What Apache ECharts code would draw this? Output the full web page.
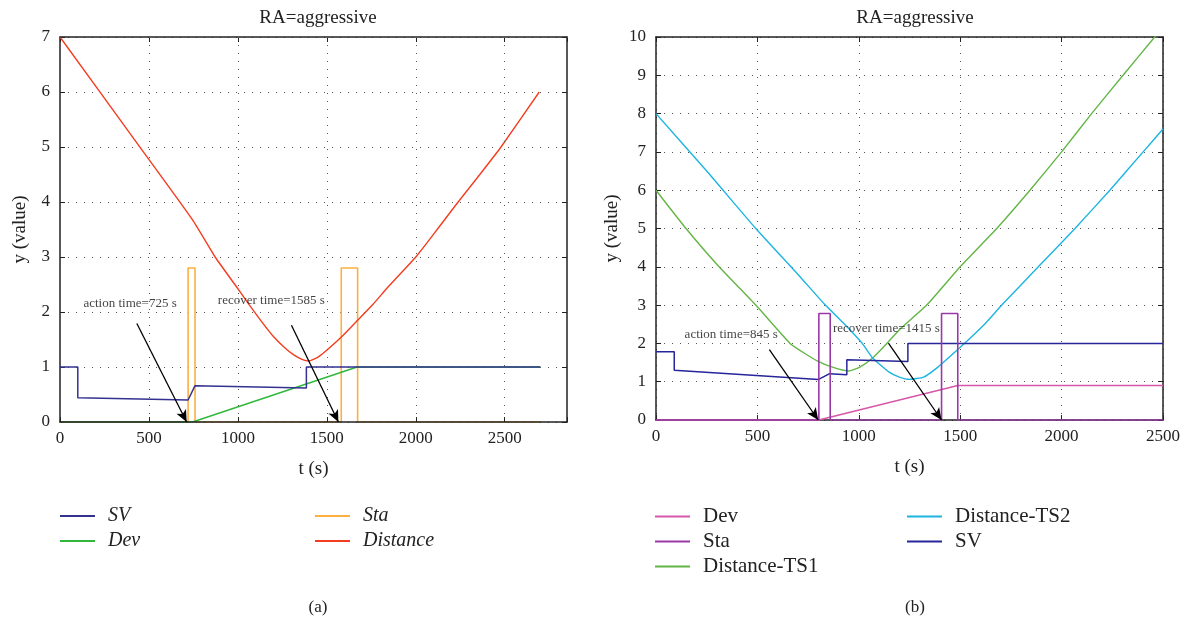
<!DOCTYPE html>
<html>
<head>
<meta charset="utf-8">
<script src="https://cdn.jsdelivr.net/npm/echarts@6/dist/echarts.min.js"></script>
<style>html,body{margin:0;padding:0;background:#fff}#c{width:1194px;height:622px}</style>
</head>
<body>
<div id="c"></div>
<script>
// ---------- data: chart (a) ----------
var xTicksA = [0, 500, 1000, 1500, 2000, 2500];
var aSV = [[0,1],[100,1],[100,0.44],[720,0.40],[759,0.66],[1385,0.62],[1385,1.0],[2700,1.0]];
var aDev = [[0,0],[745,0],[1670,1.0],[2700,1.0]];
var aSta = [[0,0],[720,0],[720,2.8],[759,2.8],[759,0],[1581,0],[1581,2.8],[1673,2.8],[1673,0],[2700,0]];
var aDist = [[0,7],[444,5.02],[746,3.67],[872,3.0],[994,2.45],[1051,2.19],[1130,1.84],[1201,1.55],[1260,1.36],[1314,1.22],[1360,1.14],[1398,1.11],[1450,1.18],[1501,1.31],[1580,1.54],[1670,1.84],[1760,2.14],[1840,2.44],[2000,3.0],[2120,3.5],[2238,4.0],[2360,4.5],[2479,5.0],[2694,6.0]];
var aNotes = [[394,2.16,'action time=725 s'],[1188,2.2,'recover time=1585 s']];
var aArrows = [[[432,1.79],[712,0]],[[1301,1.76],[1565,0]]];

// ---------- data: chart (b) ----------
var bDev = [[0,0],[803,0],[1488,0.9],[2500,0.9]];
var bSta = [[0,0],[803,0],[803,2.78],[859,2.78],[859,0],[1408,0],[1408,2.78],[1488,2.78],[1488,0],[2500,0]];
var bTS1 = [[0,6],[148,5],[311,4],[492,3],[661,2],[730,1.75],[797,1.54],[870,1.38],[950,1.28],[1005,1.38],[1068,1.62],[1135,1.98],[1203,2.37],[1335,3.0],[1500,4],[1680,5],[1844,6],[2000,7],[2148,8],[2303,9],[2459,10],[2500,10.25]];
var bTS2 = [[0,8],[250,6.5],[492,5],[700,3.8],[835,3.0],[930,2.5],[1017,2.0],[1068,1.62],[1150,1.25],[1200,1.12],[1250,1.06],[1320,1.12],[1390,1.38],[1488,1.84],[1542,2.1],[1620,2.5],[1705,3],[1885,4],[2066,5],[2238,6],[2402,7],[2500,7.6]];
var bSV = [[0,1.78],[90,1.78],[90,1.30],[802,1.06],[856,1.21],[941,1.18],[941,1.57],[1242,1.53],[1242,2.0],[2500,2.0]];
var bNotes = [[371,2.22,'action time=845 s'],[1136,2.38,'recover time=1415 s']];
var bArrows = [[[559,1.84],[800,0]],[[1147,2.0],[1408,0]]];

var FONT = 'Liberation Serif';
var ZW = '\u200b';

function gridAxisX(idx, max, pos, show, z) {
  return {
    type: 'value', gridIndex: idx, min: 0, max: max, interval: 500, position: pos, z: z || 0,
    axisLine: {show: true, onZero: false, lineStyle: {color: '#222', width: 1.5}},
    axisTick: {show: true, inside: true, length: 5, lineStyle: {color: '#222'}},
    axisLabel: {show: show, color: '#222', fontFamily: FONT, fontSize: 17, margin: 8,
      formatter: function (v) { return v % 500 === 0 ? String(v) : ''; }},
    splitLine: {show: show, lineStyle: {color: '#555', type: [1, 7], width: 1}},
    name: show ? 't (s)' : '', nameLocation: 'middle', nameGap: 38,
    nameTextStyle: {color: '#222', fontFamily: FONT, fontSize: 19}
  };
}
function gridAxisY(idx, max, pos, show, gap) {
  return {
    type: 'value', gridIndex: idx, min: 0, max: max, interval: 1, position: pos,
    axisLine: {show: true, onZero: false, lineStyle: {color: '#222', width: 1.5}},
    axisTick: {show: true, inside: true, length: 5, lineStyle: {color: '#222'}},
    axisLabel: {show: show, color: '#222', fontFamily: FONT, fontSize: 17, margin: 10},
    splitLine: {show: show, lineStyle: {color: '#555', type: [1, 7], width: 1}},
    name: show ? 'y (value)' : '', nameLocation: 'middle', nameGap: gap,
    nameTextStyle: {color: '#222', fontFamily: FONT, fontSize: 19}
  };
}
function lineS(name, data, color, xi, yi, w, smooth) {
  return {type: 'line', name: name, data: data, xAxisIndex: xi, yAxisIndex: yi,
    symbol: 'none', showSymbol: false, smooth: smooth || false,
    lineStyle: {color: color, width: w || 1.4}, itemStyle: {color: color},
    z: 2, animation: false};
}
function notes(data, xi, yi) {
  return {type: 'scatter', data: data, xAxisIndex: xi, yAxisIndex: yi, symbolSize: 1,
    itemStyle: {color: 'rgba(0,0,0,0)'}, silent: true, z: 5,
    label: {show: true, position: 'inside', formatter: function (p) { return p.value[2]; },
      color: '#111', fontFamily: FONT, fontSize: 13}};
}
function arrows(list, xi, yi) {
  return {type: 'line', data: [], xAxisIndex: xi, yAxisIndex: yi, symbol: 'none', silent: true, z: 6,
    markLine: {silent: true, symbol: ['none', 'arrow'], symbolSize: [8, 12], animation: false,
      label: {show: false}, lineStyle: {color: '#000', width: 1.3, type: 'solid'},
      data: list.map(function (a) { return [{coord: a[0]}, {coord: a[1]}]; })}};
}
function legend(left, top, names, italic, fs, gap) {
  return {left: left, top: top, orient: 'vertical', itemWidth: 35, itemHeight: 2, itemGap: gap,
    icon: 'rect', data: names, selectedMode: false,
    formatter: function (n) { return n.replace(ZW, ''); },
    textStyle: {color: '#222', fontFamily: FONT, fontSize: fs, fontStyle: italic ? 'italic' : 'normal',
      padding: [0, 0, 0, 8], lineHeight: 18}};
}

var option = {
  backgroundColor: '#fff',
  animation: false,
  title: [
    {text: 'RA=aggressive', left: 313, top: 4, textAlign: 'center', textStyle: {fontFamily: FONT, fontSize: 19, fontWeight: 'normal', color: '#222'}},
    {text: 'RA=aggressive', left: 910, top: 4, textAlign: 'center', textStyle: {fontFamily: FONT, fontSize: 19, fontWeight: 'normal', color: '#222'}},
    {text: '(a)', left: 313, top: 594, textAlign: 'center', textStyle: {fontFamily: FONT, fontSize: 17, fontWeight: 'normal', color: '#222'}},
    {text: '(b)', left: 910, top: 594, textAlign: 'center', textStyle: {fontFamily: FONT, fontSize: 17, fontWeight: 'normal', color: '#222'}}
  ],
  grid: [
    {left: 60, top: 37, width: 507, height: 385, show: false},
    {left: 656, top: 37, width: 507, height: 383, show: false}
  ],
  xAxis: [
    gridAxisX(0, 2850, 'bottom', true, 3),
    gridAxisX(0, 2850, 'top', false),
    gridAxisX(1, 2500, 'bottom', true),
    gridAxisX(1, 2500, 'top', false)
  ],
  yAxis: [
    gridAxisY(0, 7, 'left', true, 30),
    gridAxisY(0, 7, 'right', false, 0),
    gridAxisY(1, 10, 'left', true, 34),
    gridAxisY(1, 10, 'right', false, 0)
  ],
  legend: [
    legend(55, 501, ['SV', 'Dev'], true, 20, 5),
    legend(310, 501, ['Sta', 'Distance'], true, 20, 5),
    legend(650, 501, ['Dev' + ZW, 'Sta' + ZW, 'Distance-TS1'], false, 21, 4),
    legend(902, 501, ['Distance-TS2', 'SV' + ZW], false, 21, 4)
  ],
  series: [
    lineS('Sta', aSta, '#fbb040', 0, 0, 1.6),
    lineS('Dev', aDev, '#2fb83c', 0, 0, 1.4),
    lineS('Distance', aDist, '#f23d1f', 0, 0, 1.4, 0.15),
    lineS('SV', aSV, '#34328f', 0, 0, 1.5),
    notes(aNotes, 0, 0),
    arrows(aArrows, 0, 0),

    lineS('Distance-TS1', bTS1, '#63b545', 2, 2, 1.4, 0.15),
    lineS('Distance-TS2', bTS2, '#1cb5e0', 2, 2, 1.4, 0.15),
    lineS('Dev' + ZW, bDev, '#d657a8', 2, 2, 1.4),
    lineS('SV' + ZW, bSV, '#26259a', 2, 2, 1.5),
    lineS('Sta' + ZW, bSta, '#9b38a8', 2, 2, 1.6),
    notes(bNotes, 2, 2),
    arrows(bArrows, 2, 2)
  ]
};
var chart = echarts.init(document.getElementById('c'), null, {renderer: 'canvas'});
chart.setOption(option);
</script>
</body>
</html>
